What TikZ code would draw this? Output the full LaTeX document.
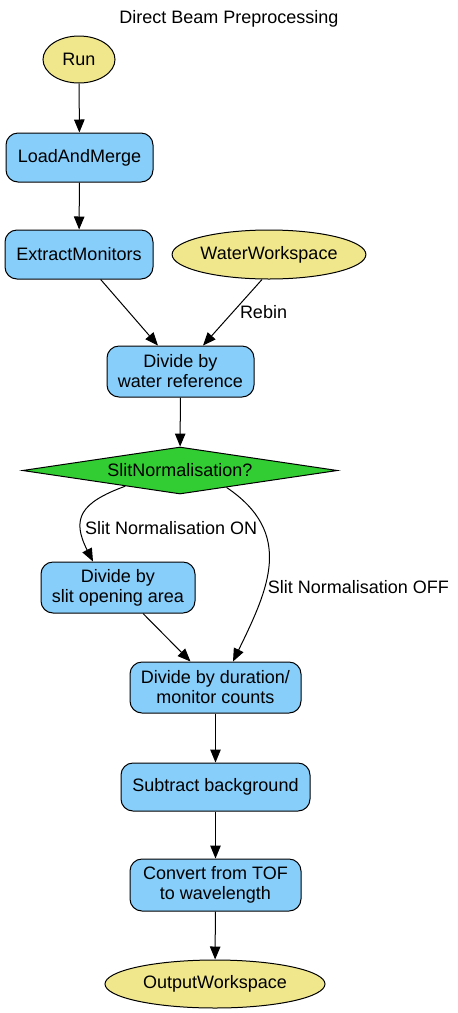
\documentclass[tikz,border=0pt]{standalone}
\usepackage{fontspec}
\setmainfont{Liberation Sans}
\usepackage{xcolor}
\usepackage{tikz}
\usetikzlibrary{arrows.meta,shapes.geometric}
\definecolor{Khaki}{HTML}{F0E68C}
\definecolor{Sky}{HTML}{87CEFA}
\definecolor{Lime}{HTML}{32CD32}

\begin{document}
\begin{tikzpicture}[
  x=1pt,y=1pt,
  algo/.style={draw=black,fill=Sky,rounded corners=12pt,line width=1pt,minimum width=#1,minimum height=49pt,inner sep=0pt,align=center,font=\fontsize{18}{20}\selectfont},
  algotwo/.style={algo=#1,minimum height=51pt},
  wspace/.style={draw=black,fill=Khaki,ellipse,line width=1pt,minimum width=#1,minimum height=48pt,inner sep=0pt,font=\fontsize{18}{20}\selectfont},
  choice/.style={draw=black,fill=Lime,diamond,aspect=6.7,line width=1pt,minimum width=315pt,minimum height=47pt,inner sep=0pt,font=\fontsize{18}{20}\selectfont},
  flowarrow/.style={-{Triangle[length=13pt,width=10.5pt]},line width=1pt,draw=black},
  edgelabel/.style={font=\fontsize{18}{20}\selectfont,inner sep=3pt}
]
\useasboundingbox (0,0) rectangle (458,-1013);
\node[font=\fontsize{18}{20}\selectfont] (title) at (229,-19) {Direct Beam Preprocessing};
\node[wspace=72pt,minimum height=47pt] (run) at (79,-59.5) {Run};
\node[algo=147pt] (load) at (79.5,-157.5) {LoadAndMerge};
\node[algo=148pt] (extract) at (79,-254.5) {ExtractMonitors};
\node[wspace=184pt,minimum height=49pt] (water) at (269,-254.5) {WaterWorkspace};
\node[algotwo=147pt] (divwater) at (180.5,-371.5) {Divide by\\water reference};
\node[choice] (slitq) at (180,-470.5) {SlitNormalisation?};
\node[algotwo=154pt] (divslit) at (118,-587.5) {Divide by\\slit opening area};
\node[algotwo=171pt] (divdur) at (215.5,-687.5) {Divide by duration/\\monitor counts};
\node[algo=189pt,minimum height=48pt] (subbg) at (215.5,-787) {Subtract background};
\node[algotwo=171pt,minimum height=52pt] (convert) at (215.5,-885) {Convert from TOF\\to wavelength};
\node[wspace=220pt] (output) at (215,-984) {OutputWorkspace};

\draw[flowarrow] (run)--(load); \draw[flowarrow] (load)--(extract);
\draw[flowarrow] (extract)--(divwater);
\draw[flowarrow] ([xshift=-7pt]water.south)--([xshift=22.5pt]divwater.north) node[midway,right,edgelabel,xshift=4pt]{Rebin};
\draw[flowarrow] (slitq.196) to[out=200,in=117,looseness=1.5] node[pos=0.68,right,edgelabel]{Slit Normalisation ON} ([xshift=-25pt]divslit.north);
\draw[flowarrow] (divwater)--(slitq);
\draw[flowarrow] (slitq.340) to[out=-34,in=64,looseness=1.2] node[pos=0.63,right,edgelabel]{Slit Normalisation OFF} ([xshift=17.5pt]divdur.north);
\draw[flowarrow] ([xshift=25pt]divslit.south)--([xshift=-25pt]divdur.north);
\draw[flowarrow] (divdur)--(subbg); \draw[flowarrow] (subbg)--(convert);
\draw[flowarrow] (convert)--(output);
\end{tikzpicture}
\end{document}
